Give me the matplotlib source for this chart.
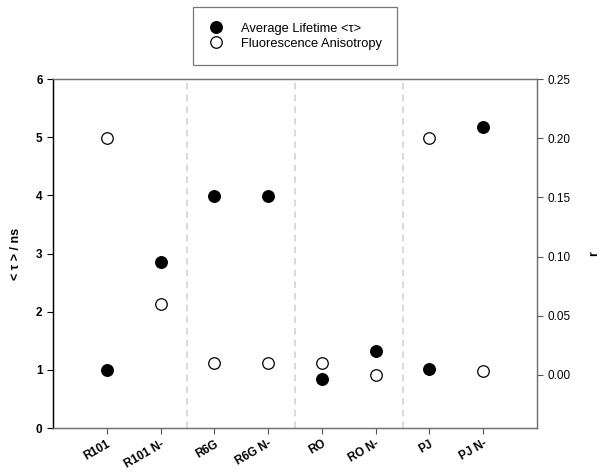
import matplotlib
matplotlib.use('Agg')
import matplotlib.pyplot as plt
from matplotlib.lines import Line2D

plt.rcParams['font.family'] = ['Liberation Sans', 'DejaVu Sans']

samples = ['R101', 'R101 N-', 'R6G', 'R6G N-', 'RO', 'RO N-', 'PJ', 'PJ N-']
lifetime = [1.00, 2.86, 3.98, 3.98, 0.85, 1.32, 1.01, 5.17]
anisotropy = [0.200, 0.060, 0.010, 0.010, 0.010, 0.000, 0.200, 0.003]
group_breaks = [2.5, 4.5, 6.5]

x = list(range(1, len(samples) + 1))

fig = plt.figure(figsize=(6.03, 4.73), dpi=100)
ax = fig.add_axes([53/603, 1 - 428/473, (537 - 53)/603, (428 - 79)/473])
ax2 = ax.twinx()

for b in group_breaks:
    ax.axvline(b, color='#d3d3d3', linestyle=(0, (4, 3)), linewidth=1.2, zorder=1)

ax.plot(x, lifetime, 'o', color='black', markersize=8.3, zorder=3)
ax2.plot(x, anisotropy, 'o', markerfacecolor='white', markeredgecolor='black',
         markeredgewidth=0.9, markersize=8.3, zorder=3)

ax.set_xlim(0, 9)
ax.set_ylim(0, 6)
ax2.set_ylim(-0.0448, 0.25)
ax.set_yticks(range(0, 7))
ax2.set_yticks([0.00, 0.05, 0.10, 0.15, 0.20, 0.25])
ax2.set_yticklabels(['0.00', '0.05', '0.10', '0.15', '0.20', '0.25'])
ax.set_xticks(x)
ax.set_xticklabels(samples, rotation=30, ha='right', rotation_mode='anchor',
                   fontsize=8.5, fontweight='bold')
for t in ax.get_yticklabels():
    t.set_fontweight('bold')
ax.tick_params(axis='y', labelsize=8.5, length=4, width=0.8)
ax.tick_params(axis='x', length=4, width=0.8, color='#555555', pad=3)
ax2.tick_params(axis='y', labelsize=8.5, length=4, width=0.8, color='#555555')

ax.set_ylabel('< \u03c4 > / ns', fontsize=9, fontweight='bold', labelpad=10)
ax2.set_ylabel('r', fontsize=9, fontweight='bold', rotation=90, labelpad=13)

for a in (ax, ax2):
    for s in ('top', 'right', 'bottom'):
        a.spines[s].set_color('#707070')
    a.spines['left'].set_color('black')
    for s in a.spines.values():
        s.set_linewidth(0.9)

handles = [
    Line2D([], [], marker='o', linestyle='none', color='black', markersize=8.3),
    Line2D([], [], marker='o', linestyle='none', markerfacecolor='white',
           markeredgecolor='black', markeredgewidth=0.9, markersize=8.3),
]
leg = fig.legend(handles, ['Average Lifetime <\u03c4>', 'Fluorescence Anisotropy'],
                 loc='upper center', bbox_to_anchor=(295/603, 1 - 7/473),
                 fontsize=9.3, frameon=True, fancybox=False, borderpad=1.2,
                 borderaxespad=0, handlelength=1.2, handletextpad=1.3,
                 labelspacing=0.25)
leg.get_frame().set_edgecolor('#555555')
leg.get_frame().set_linewidth(0.9)

fig.savefig('out.png', dpi=100)
